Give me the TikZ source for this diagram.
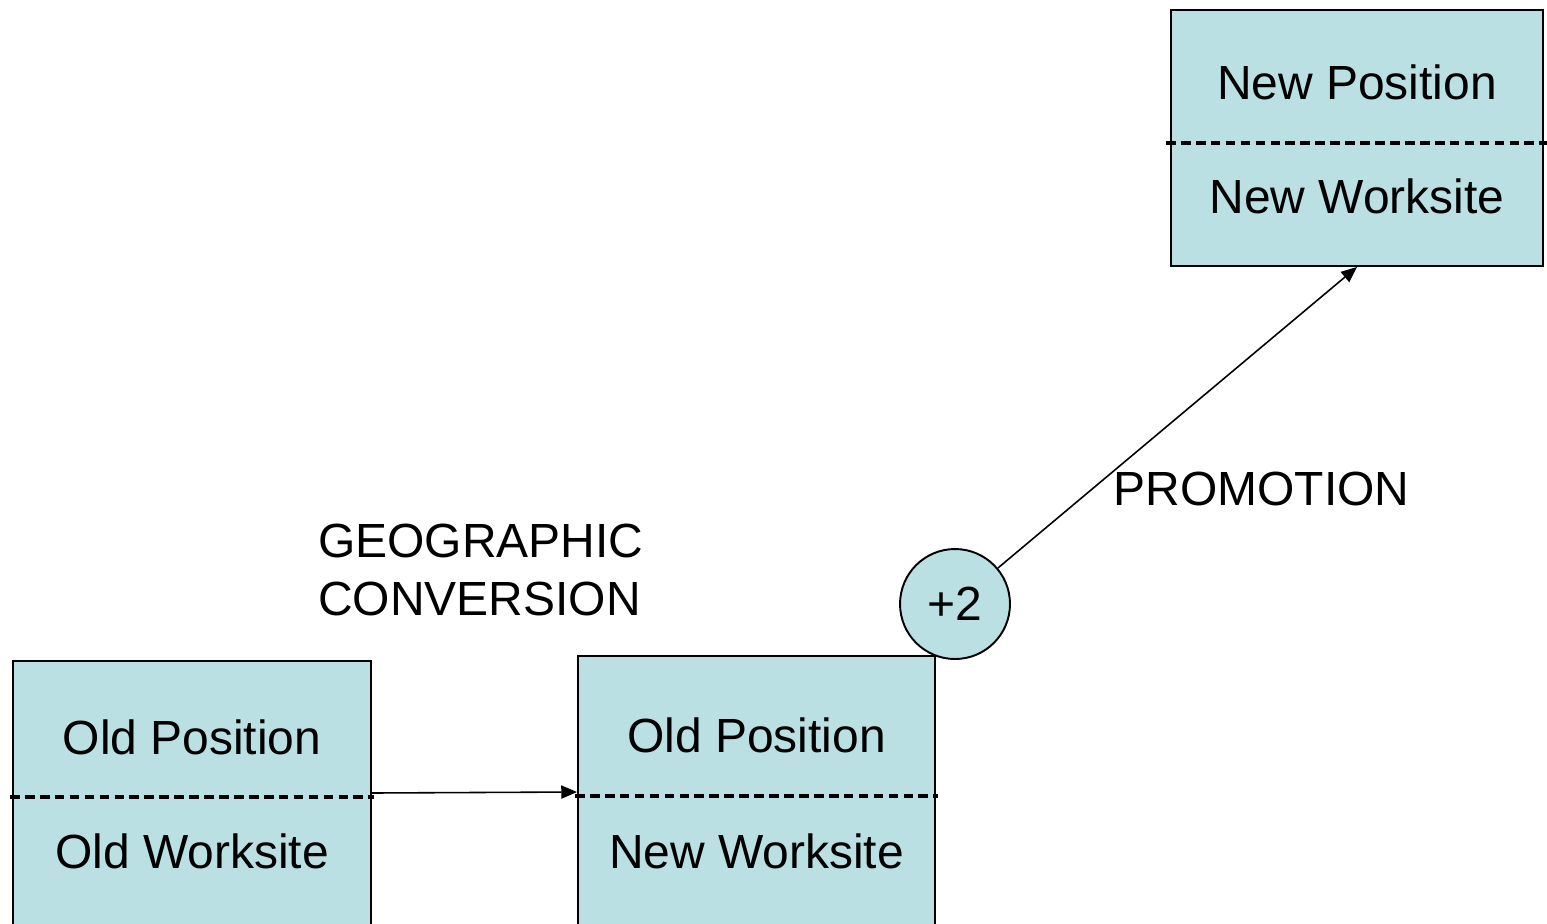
\documentclass[tikz,border=0pt]{standalone}
\usepackage{fontspec}
\setmainfont{Liberation Sans}
\usepackage{xcolor}
\usepackage{tikz}
\usetikzlibrary{arrows.meta,positioning,calc}

\definecolor{boxfill}{HTML}{BAE0E3}

\tikzset{
  posbox/.style={draw, line width=1.1pt, fill=boxfill, inner sep=0pt},
  lbl/.style={font=\fontsize{27.3}{33}\selectfont, inner sep=0pt},
  divider/.style={draw, line width=1.8pt, dash pattern=on 5.5pt off 3pt},
  conn/.style={-{Triangle[length=9pt,width=7.5pt]}, line width=0.9pt}
}

\begin{document}
\begin{tikzpicture}[x=0.02cm, y=-0.02cm]
  \clip (0,0) rectangle (1547,923);
  \fill[white] (0,0) rectangle (1547,923);

  % Boxes
  \node[posbox, minimum width=7.16cm, minimum height=5.6cm] (old) at (192,801) {};
  \node[posbox, minimum width=7.14cm, minimum height=5.7cm] (mid) at (756.5,798.5) {};
  \node[posbox, minimum width=7.44cm, minimum height=5.12cm] (new) at (1357,138) {};

  % Dividers
  \path[divider] (10,797) -- (374,797);
  \path[divider] (575,796) -- (938,796);
  \path[divider] (1166,143) -- (1547,143);

  % Box texts
  \node[lbl] (oldpos) at (192,737) {Old Position};
  \node[lbl] (oldsite) at (192,851) {Old Worksite};
  \node[lbl] (midpos) at (756.5,735) {Old Position};
  \node[lbl] (midsite) at (756.5,851) {New Worksite};
  \node[lbl] (newpos) at (1357,82) {New Position};
  \node[lbl] (newsite) at (1357,196) {New Worksite};

  % Grade step
  \node[draw, line width=1.1pt, fill=boxfill, circle, minimum size=2.2cm, inner sep=0pt,
        font=\fontsize{27.3}{33}\selectfont] (plus) at (955,604) {+2};

  % Moves
  \draw[conn] (old.east |- 0,793) -- (mid.west |- 0,792);
  \draw[conn] (plus) -- (new.south);

  % Move names
  \node[lbl, align=left, anchor=west] (geo) at (318,570) {GEOGRAPHIC\\CONVERSION};
  \node[lbl] (promo) at (1261.5,489) {PROMOTION};
\end{tikzpicture}
\end{document}
